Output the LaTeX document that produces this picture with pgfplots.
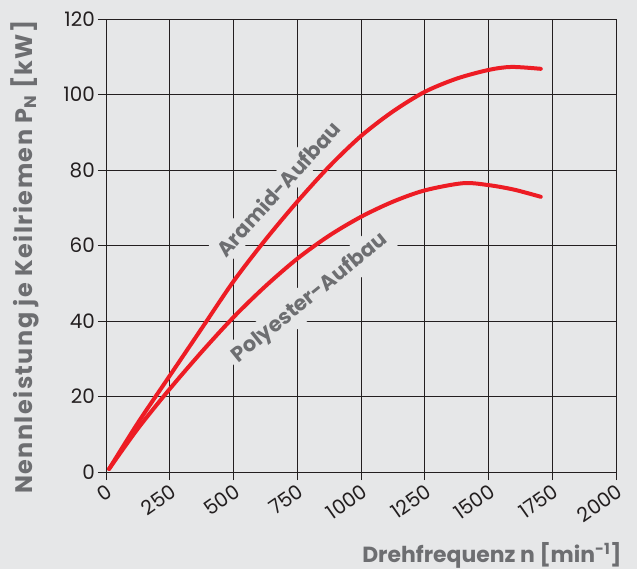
\documentclass[border=0pt]{standalone}
\usepackage{pgfplots}
\pgfplotsset{compat=1.18}
\usepackage{fontspec}
\setmainfont{Poppins}
\definecolor{bg}{HTML}{E6E7E8}
\definecolor{gridc}{HTML}{231F20}
\definecolor{labc}{HTML}{6D6E71}
\definecolor{cred}{HTML}{ED1C24}
\begin{document}
\begin{tikzpicture}
\fill[bg] (-106bp,-97bp) rectangle (531bp,472bp);
\useasboundingbox (-106bp,-97bp) rectangle (531bp,472bp);
\begin{axis}[anchor=origin, at={(0,0)}, x=0.255bp, y=3.775bp,
  xmin=0, xmax=2000, ymin=0, ymax=120,
  xtick={0,250,...,2000}, ytick={0,20,...,120},
  grid=major, grid style={color=gridc, line width=0.9bp},
  axis line style={gridc, line width=0.9bp},
  tick pos=left, tick align=outside, major tick length=8bp,
  tick style={gridc, line width=0.9bp},
  ticklabel style={font=\fontsize{20}{22}\selectfont, text=gridc},
  /pgf/number format/assume math mode=true,
  /pgf/number format/set thousands separator={},
  xticklabel style={rotate=35, anchor=north east, inner sep=2bp},
  yticklabel style={inner sep=3bp},
  clip=false]
\addplot[cred, line width=4bp, smooth, tension=0.5, line cap=round] coordinates {
(12,0.8)(125,13)(250,25.5)(375,38)(500,50.5)(625,61.5)(750,71.6)(875,80.9)(1000,89)(1125,95.5)(1250,100.7)(1375,104.2)(1500,106.5)(1590,107.3)(1705,106.8)};
\addplot[cred, line width=4bp, smooth, tension=0.5, line cap=round] coordinates {
(12,0.8)(125,11.5)(250,22)(375,31.8)(500,41)(625,49.2)(750,56.5)(875,62.6)(1000,67.6)(1125,71.6)(1250,74.6)(1400,76.5)(1500,76.0)(1600,74.8)(1705,72.9)};
\node[rotate=48, fill=bg, inner sep=5bp, text=labc, font=\bfseries\fontsize{21}{22}\selectfont] at (axis cs:675,75) {Aramid-Aufbau};
\node[rotate=39, fill=bg, inner sep=5bp, text=labc, font=\bfseries\fontsize{21}{22}\selectfont] at (axis cs:800,46) {Polyester-Aufbau};
\end{axis}
\node[anchor=base east, text=labc, font=\bfseries\fontsize{22}{24}\selectfont] at (519bp,-90bp) {Drehfrequenz n [min\textsuperscript{-1}]};
\node[rotate=90, text=labc, font=\bfseries\fontsize{24}{26}\selectfont\addfontfeatures{LetterSpace=6}] at (-81bp,215bp) {Nennleistung je Keilriemen P\textsubscript{N} [kW]};
\end{tikzpicture}
\end{document}
